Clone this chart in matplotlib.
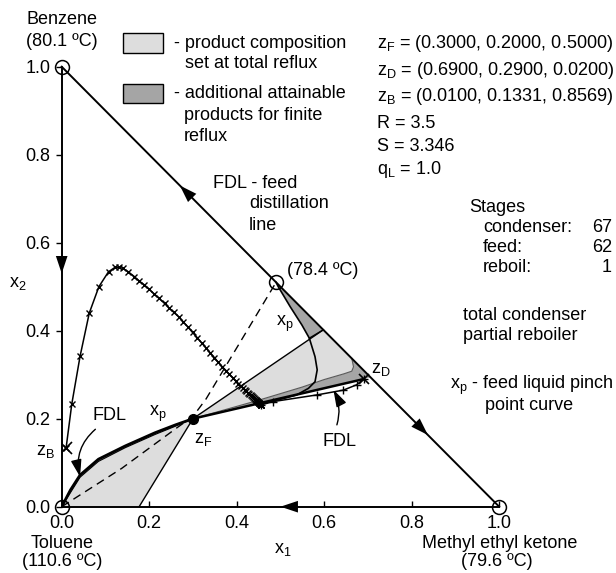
import numpy as np
import matplotlib
matplotlib.use('Agg')
import matplotlib.pyplot as plt
from matplotlib.patches import Rectangle, FancyArrowPatch, Polygon

plt.rcParams['font.family'] = ['Liberation Sans', 'DejaVu Sans']
plt.rcParams['font.size'] = 13
plt.rcParams['mathtext.fontset'] = 'custom'
plt.rcParams['mathtext.rm'] = 'Liberation Sans'
plt.rcParams['mathtext.it'] = 'Liberation Sans'

# ---------------- data ----------------
# pure components / azeotrope (x1, x2)
nodes_x = [0.0, 1.0, 0.0, 0.49]
nodes_y = [0.0, 0.0, 1.0, 0.51]
zF = (0.30, 0.20)
zD = (0.69, 0.29)
zB = (0.01, 0.1331)

# feed distillation line, toluene -> zF
fdl_x = [0.0, 0.02, 0.042, 0.084, 0.145, 0.213, 0.26, 0.30]
fdl_y = [0.0, 0.038, 0.072, 0.108, 0.138, 0.168, 0.186, 0.20]
# pinch point curve just under the FDL
xpl_x = [0.0, 0.042, 0.084, 0.145, 0.213, 0.26, 0.30]
xpl_y = [0.0, 0.067, 0.103, 0.134, 0.164, 0.183, 0.20]
# pinch point curve from the azeotrope
xpu_x = [0.49, 0.495, 0.522, 0.549, 0.566, 0.579, 0.584, 0.579, 0.564, 0.537, 0.507, 0.461, 0.45]
xpu_y = [0.51, 0.50, 0.455, 0.413, 0.383, 0.341, 0.311, 0.284, 0.269, 0.254, 0.246, 0.235, 0.234]
# upper edge of total-reflux region near zD
edge_x = [0.663, 0.667, 0.663, 0.645, 0.60, 0.55, 0.50, 0.45, 0.40, 0.35, 0.30]
edge_y = [0.337, 0.318, 0.308, 0.302, 0.289, 0.272, 0.257, 0.242, 0.228, 0.214, 0.20]
# dashed line
dash_x = [0.0, 0.137, 0.267, 0.30, 0.33, 0.487]
dash_y = [0.0, 0.087, 0.182, 0.205, 0.245, 0.505]

# stripping section profile (stages 1..62)
strip_x = [0.01, 0.023, 0.042, 0.063, 0.085, 0.107, 0.122, 0.131, 0.139, 0.152,
           0.166, 0.177, 0.189, 0.200, 0.212, 0.222, 0.235, 0.245, 0.256, 0.267,
           0.278, 0.289, 0.299, 0.310, 0.320, 0.330, 0.339, 0.349, 0.358, 0.367,
           0.376, 0.383, 0.391, 0.398, 0.404, 0.409, 0.414, 0.418, 0.422, 0.426,
           0.429, 0.432, 0.435, 0.437, 0.439, 0.441, 0.443, 0.444, 0.445, 0.446,
           0.447, 0.448, 0.449, 0.450, 0.451, 0.452, 0.453, 0.454, 0.455, 0.4553,
           0.4556, 0.4558]
strip_y = [0.1331, 0.233, 0.342, 0.440, 0.500, 0.534, 0.544, 0.544, 0.542, 0.534,
           0.523, 0.513, 0.504, 0.494, 0.483, 0.474, 0.462, 0.452, 0.442, 0.432,
           0.420, 0.408, 0.396, 0.384, 0.372, 0.361, 0.350, 0.339, 0.328, 0.318,
           0.309, 0.301, 0.293, 0.285, 0.279, 0.2744, 0.2698, 0.2661, 0.2624, 0.2588,
           0.2560, 0.2532, 0.2505, 0.2486, 0.2468, 0.2450, 0.2431, 0.2422, 0.2413, 0.2404,
           0.2394, 0.2385, 0.2376, 0.2367, 0.2358, 0.2348, 0.2339, 0.2330, 0.2321, 0.2318,
           0.2315, 0.2313]
# rectifying section profile (stages 62..67)
rect_x = [0.4558, 0.484, 0.583, 0.644, 0.674, 0.69]
rect_y = [0.2313, 0.239, 0.254, 0.265, 0.277, 0.29]

LIGHT = '#dddddd'
DARK = '#a5a5a5'

fig = plt.figure(figsize=(6.16, 5.73), dpi=100)
W, H = 616.0, 573.0
ax = fig.add_axes([61.7 / W, 66.3 / H, 437.5 / W, 440 / H])
ax.set_xlim(0, 1)
ax.set_ylim(0, 1)


def P(px, py):
    return px / W, 1 - py / H


def T(px, py, s, **kw):
    kw.setdefault('va', 'center')
    fig.text(*P(px, py), s, **kw)


# ---- shaded regions ----
mb_x = [0.36, 0.45, 0.55, zD[0]]
mb_y = [zF[1] + (x - zF[0]) * (zD[1] - zF[1]) / (zD[0] - zF[0]) for x in mb_x]
darkB = list(zip(mb_x, mb_y)) + [(0.706, 0.294)] + [p for p in zip(edge_x, edge_y) if p[0] >= 0.36]
ax.add_patch(Polygon(darkB, closed=True, fc=DARK, ec='none'))
darkA = [(0.49, 0.51), (0.598, 0.402), (0.566, 0.383), (0.549, 0.413), (0.522, 0.455), (0.495, 0.50)]
ax.add_patch(Polygon(darkA, closed=True, fc=DARK, ec='none'))
lightU = [zF, (0.598, 0.402)] + list(zip(edge_x, edge_y))
ax.add_patch(Polygon(lightU, closed=True, fc=LIGHT, ec='none'))
lowband = list(zip(fdl_x, fdl_y)) + list(zip(xpl_x, xpl_y))[::-1]
ax.add_patch(Polygon(lowband, closed=True, fc=DARK, ec='none'))
lightL = list(zip(xpl_x, xpl_y)) + [(0.177, 0.0)]
ax.add_patch(Polygon(lightL, closed=True, fc=LIGHT, ec='none'))

# ---- region boundaries ----
ax.plot(edge_x, edge_y, color='0.35', lw=0.8)
ax.plot([0.177, zF[0]], [0.0, zF[1]], color='k', lw=1.0)
ax.plot([zF[0], 0.598], [zF[1], 0.402], color='k', lw=1.0)
ax.plot([0.566, 0.598], [0.383, 0.402], color='k', lw=1.0)
ax.plot(xpu_x, xpu_y, color='k', lw=1.2)
ax.plot(xpl_x, xpl_y, color='k', lw=0.8)
ax.plot(fdl_x, fdl_y, color='k', lw=2.0)
ax.plot([zF[0], zD[0]], [zF[1], zD[1]], color='k', lw=1.8)
ax.plot(dash_x, dash_y, color='k', lw=1.0, dashes=(6, 4))

# ---- column profiles ----
ax.plot(strip_x, strip_y, color='k', lw=1.1, marker='x', ms=5, mew=1.0)
ax.plot(rect_x, rect_y, color='k', lw=1.1, marker='+', ms=6, mew=1.0)
ax.plot([zB[0]], [zB[1]], marker='x', ms=9, mew=1.2, color='k')
ax.plot([zD[0]], [zD[1]], marker='x', ms=7, mew=1.2, color='k')
ax.plot([zF[0]], [zF[1]], marker='o', ms=7, color='k')

# ---- triangle ----
for s in ['top', 'right']:
    ax.spines[s].set_visible(False)
for s in ['left', 'bottom']:
    ax.spines[s].set_linewidth(1.4)
ax.plot([0, 1], [1, 0], color='k', lw=1.4, clip_on=False)
ax.plot(nodes_x, nodes_y, 'o', ms=10, mfc='none', mec='k', mew=1.1, clip_on=False, zorder=5)

# arrowheads along the edges
for tail, tip in [((0.0, 0.60), (0.0, 0.53)),
                  ((0.31, 0.69), (0.27, 0.73)),
                  ((0.79, 0.21), (0.837, 0.163)),
                  ((0.56, 0.0), (0.50, 0.0))]:
    ax.add_patch(FancyArrowPatch(tail, tip, arrowstyle='-|>,head_length=0.9,head_width=0.3',
                                 mutation_scale=14, color='k', lw=0, shrinkA=0, shrinkB=0,
                                 clip_on=False, zorder=6))

ticks = [0.0, 0.2, 0.4, 0.6, 0.8, 1.0]
ax.set_xticks(ticks, ['%.1f' % t for t in ticks])
ax.set_yticks(ticks, ['%.1f' % t for t in ticks])
ax.tick_params(axis='x', direction='in', length=4, width=1.0, pad=6, labelsize=13)
ax.tick_params(axis='y', direction='out', length=4, width=1.0, pad=4, labelsize=13)

# ---- FDL label arrows ----
ax.annotate('', xy=(0.042, 0.068), xytext=(0.077, 0.176),
            arrowprops=dict(arrowstyle='-|>,head_length=0.8,head_width=0.25', color='k', lw=1.0,
                            connectionstyle='arc3,rad=0.3', shrinkA=0, shrinkB=0))
ax.annotate('', xy=(0.621, 0.266), xytext=(0.629, 0.186),
            arrowprops=dict(arrowstyle='-|>,head_length=0.8,head_width=0.25', color='k', lw=1.0,
                            connectionstyle='arc3,rad=0.2', shrinkA=0, shrinkB=0))

# ---- legend boxes ----
fig.patches.append(Rectangle(P(123, 53), 40 / W, 20 / H, transform=fig.transFigure,
                             fc=LIGHT, ec='k', lw=1.0))
fig.patches.append(Rectangle(P(123, 103), 40 / W, 19 / H, transform=fig.transFigure,
                             fc=DARK, ec='k', lw=1.0))

# ---- texts ----
T(62, 19, 'Benzene', ha='center')
T(62, 42, '(80.1 ºC)', ha='center')
T(174, 43, '- product composition')
T(185, 64, 'set at total reflux')
T(174, 94, '- additional attainable')
T(184, 115, 'products for finite')
T(184, 137, 'reflux')

T(377, 48, r'z$_{\rm F}$ = (0.3000, 0.2000, 0.5000)', va='baseline')
T(377, 75, r'z$_{\rm D}$ = (0.6900, 0.2900, 0.0200)', va='baseline')
T(377, 101, r'z$_{\rm B}$ = (0.0100, 0.1331, 0.8569)', va='baseline')
T(377, 128, 'R = 3.5', va='baseline')
T(377, 151, 'S = 3.346', va='baseline')
T(377, 174, r'q$_{\rm L}$ = 1.0', va='baseline')

T(213, 183, 'FDL - feed')
T(249, 204, 'distillation')
T(249, 226, 'line')

T(469, 208, 'Stages')
T(483, 228, 'condenser:')
T(612, 228, '67', ha='right')
T(483, 248, 'feed:')
T(612, 248, '62', ha='right')
T(483, 268, 'reboil:')
T(612, 268, '1', ha='right')
T(463, 315, 'total condenser')
T(463, 336, 'partial reboiler')
T(450, 385, r'x$_{\rm p}$ - feed liquid pinch')
T(485, 405, 'point curve')

T(287, 271, '(78.4 ºC)')
T(285, 324, r'x$_{\rm p}$', ha='center')
T(158, 414, r'x$_{\rm p}$', ha='center')
T(203, 440, r'z$_{\rm F}$', ha='center')
T(45, 451, r'z$_{\rm B}$', ha='center')
T(381, 370, r'z$_{\rm D}$', ha='center')
T(110, 416, 'FDL', ha='center')
T(340, 442, 'FDL', ha='center')
T(283, 549, r'x$_{\rm 1}$', ha='center')
T(18, 284, r'x$_{\rm 2}$', ha='center')
T(62, 543, 'Toluene', ha='center')
T(62, 562, '(110.6 ºC)', ha='center')
T(500, 544, 'Methyl ethyl ketone', ha='center')
T(497, 562, '(79.6 ºC)', ha='center')

fig.savefig('out.png', dpi=100)
